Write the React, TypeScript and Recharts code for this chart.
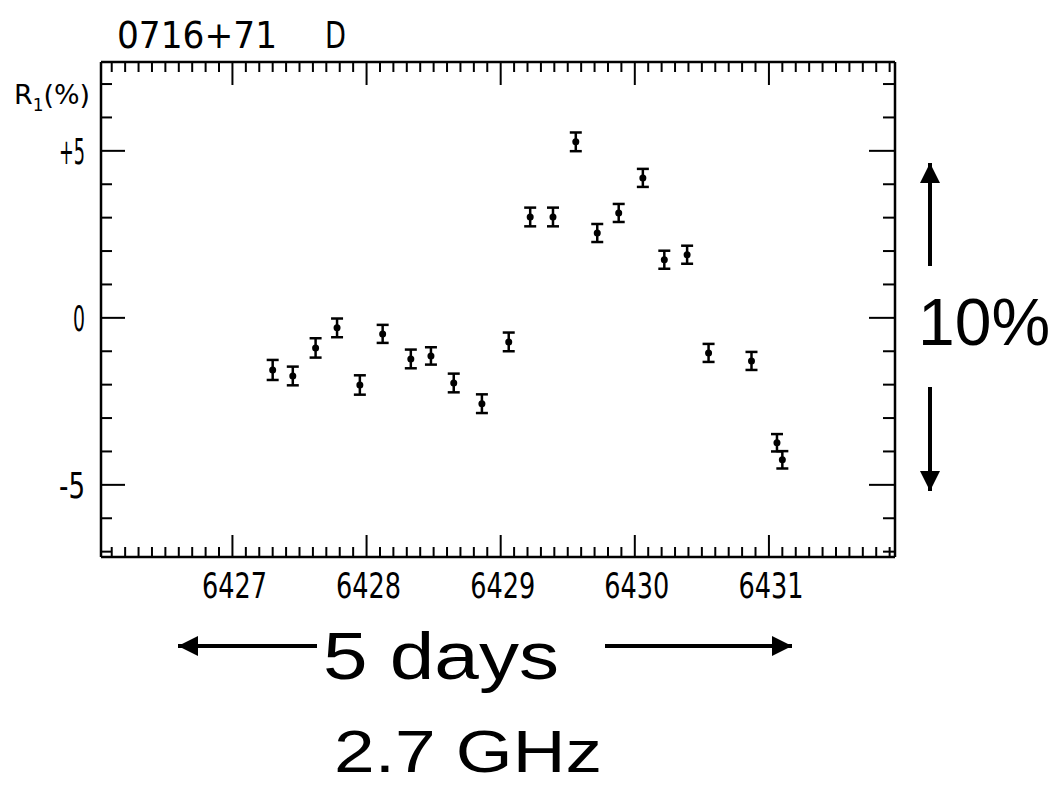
import { ScatterChart, Scatter, XAxis, YAxis, ErrorBar } from 'recharts';

// Julian day (minus 2440000) of each observation
const days = [
  6427.30, 6427.45, 6427.62, 6427.78, 6427.95, 6428.12, 6428.33, 6428.48,
  6428.65, 6428.86, 6429.06, 6429.22, 6429.39, 6429.56, 6429.72, 6429.88,
  6430.06, 6430.22, 6430.39, 6430.55, 6430.87, 6431.06, 6431.10,
];
// residual flux R1 in percent
const residuals = [
  -1.56, -1.74, -0.90, -0.30, -2.01, -0.48, -1.23, -1.14,
  -1.95, -2.57, -0.72, 3.02, 3.02, 5.27, 2.54, 3.14,
  4.19, 1.74, 1.89, -1.05, -1.29, -3.74, -4.25,
];
const errors = [
  0.30, 0.28, 0.29, 0.28, 0.29, 0.27, 0.28, 0.26,
  0.28, 0.28, 0.28, 0.28, 0.28, 0.28, 0.27, 0.27,
  0.27, 0.27, 0.27, 0.27, 0.27, 0.26, 0.26,
];

const xLabels = [6427, 6428, 6429, 6430, 6431];
const yLabels: Record<number, string> = { 5: '+5', 0: '0', [-5]: '-5' };

const X_DOMAIN = [6426.02, 6431.94];
const Y_DOMAIN = [-7.16, 7.66];

const data = days.map((d, i) => ({ jd: d, r: residuals[i], err: errors[i] }));

const xTicks: number[] = [];
for (let i = 1; i <= 59; i++) xTicks.push(Math.round((6426 + i * 0.1) * 10) / 10);
const yTicks = [-7, -6, -5, -4, -3, -2, -1, 0, 1, 2, 3, 4, 5, 6, 7];

const plotFont = "'DejaVu Sans Condensed', 'DejaVu Sans', sans-serif";
const annoFont = "'Liberation Sans', Arial, sans-serif";

const isMajorX = (v: number) => Math.abs(v - Math.round(v)) < 1e-6;

const BottomTick = ({ x, y, payload }: any) => {
  const major = isMajorX(payload.value);
  return (
    <g>
      <line x1={x} x2={x} y1={y} y2={y - (major ? 22 : 10)} stroke="#000" strokeWidth={2} />
      {major && xLabels.includes(Math.round(payload.value)) && (
        <text x={x + 2} y={y + 41} textAnchor="middle" fontFamily={plotFont} fontSize={36}
          textLength={65} lengthAdjust="spacingAndGlyphs" fill="#000">
          {Math.round(payload.value)}
        </text>
      )}
    </g>
  );
};

const TopTick = ({ x, y, payload }: any) => {
  const major = isMajorX(payload.value);
  return <line x1={x} x2={x} y1={y} y2={y + (major ? 23 : 10)} stroke="#000" strokeWidth={2} />;
};

const LeftTick = ({ x, y, payload }: any) => {
  const major = payload.value % 5 === 0;
  const label = yLabels[payload.value];
  return (
    <g>
      <line x1={x} x2={x + (major ? 24 : 11)} y1={y} y2={y} stroke="#000" strokeWidth={2} />
      {label && (
        <text x={x - 16} y={y + 13} textAnchor="end" fontFamily={plotFont} fontSize={35}
          textLength={label.length > 1 ? 26 : 12} lengthAdjust="spacingAndGlyphs" fill="#000">
          {label}
        </text>
      )}
    </g>
  );
};

const RightTick = ({ x, y, payload }: any) => {
  const major = payload.value % 5 === 0;
  return <line x1={x} x2={x - (major ? 26 : 12)} y1={y} y2={y} stroke="#000" strokeWidth={2} />;
};

const Dot = (p: any) => <circle cx={p.cx} cy={p.cy} r={3.5} fill="#000" />;

const axisLine = { stroke: '#000', strokeWidth: 2.5 };

export default function App() {
  return (
    <div style={{ position: 'absolute', left: 0, top: 0, width: 1059, height: 785, background: '#fff' }}>
      <ScatterChart width={1059} height={785} margin={{ top: 61, left: 100, right: 163, bottom: 227 }}>
        <XAxis xAxisId="b" dataKey="jd" type="number" domain={X_DOMAIN} allowDataOverflow ticks={xTicks} interval={0}
          height={1} tickSize={0} tickMargin={0} tick={<BottomTick />} axisLine={axisLine} />
        <XAxis xAxisId="t" orientation="top" dataKey="jd" type="number" domain={X_DOMAIN} allowDataOverflow ticks={xTicks} interval={0}
          height={1} tickSize={0} tickMargin={0} tick={<TopTick />} axisLine={axisLine} />
        <YAxis yAxisId="l" dataKey="r" type="number" domain={Y_DOMAIN} allowDataOverflow ticks={yTicks} interval={0}
          width={1} tickSize={0} tickMargin={0} tick={<LeftTick />} axisLine={axisLine} />
        <YAxis yAxisId="r" orientation="right" dataKey="r" type="number" domain={Y_DOMAIN} allowDataOverflow ticks={yTicks} interval={0}
          width={1} tickSize={0} tickMargin={0} tick={<RightTick />} axisLine={axisLine} />
        <Scatter data={data} xAxisId="b" yAxisId="l" shape={Dot} isAnimationActive={false}>
          <ErrorBar dataKey="err" direction="y" width={6} stroke="#000" strokeWidth={2.5} />
        </Scatter>
      </ScatterChart>
      <svg width={1059} height={785} style={{ position: 'absolute', left: 0, top: 0, pointerEvents: 'none' }}>
        <text x={117} y={48} fontFamily={plotFont} fontSize={38} textLength={160} lengthAdjust="spacingAndGlyphs" fill="#000">0716+71</text>
        <text x={325} y={48} fontFamily={plotFont} fontSize={38} textLength={21} lengthAdjust="spacingAndGlyphs" fill="#000">D</text>
        <text x={14} y={104} fontFamily={plotFont} fontSize={27} fill="#000" textLength={76} lengthAdjust="spacingAndGlyphs">
          R<tspan fontSize={17} dy={7}>1</tspan><tspan dy={-7}>(%)</tspan>
        </text>

        <defs>
          <marker id="ah" viewBox="0 0 10 10" refX={10} refY={5} markerWidth={5} markerHeight={5} markerUnits="strokeWidth" orient="auto">
            <path d="M0,0 L10,5 L0,10 z" fill="#000" />
          </marker>
        </defs>
        <line x1={317} y1={646} x2={178} y2={646} stroke="#000" strokeWidth={4} markerEnd="url(#ah)" />
        <line x1={605} y1={646} x2={792} y2={646} stroke="#000" strokeWidth={4} markerEnd="url(#ah)" />
        <text x={441} y={679} textAnchor="middle" fontFamily={annoFont} fontSize={67}
          textLength={236} lengthAdjust="spacingAndGlyphs" fill="#000">5 days</text>
        <text x={468} y={772} textAnchor="middle" fontFamily={annoFont} fontSize={60}
          textLength={268} lengthAdjust="spacingAndGlyphs" fill="#000">2.7 GHz</text>

        <line x1={930} y1={266} x2={930} y2={163} stroke="#000" strokeWidth={4} markerEnd="url(#ah)" />
        <line x1={930} y1={387} x2={930} y2={491} stroke="#000" strokeWidth={4} markerEnd="url(#ah)" />
        <text x={918} y={345} fontFamily={annoFont} fontSize={66} fill="#000">10%</text>
      </svg>
    </div>
  );
}
